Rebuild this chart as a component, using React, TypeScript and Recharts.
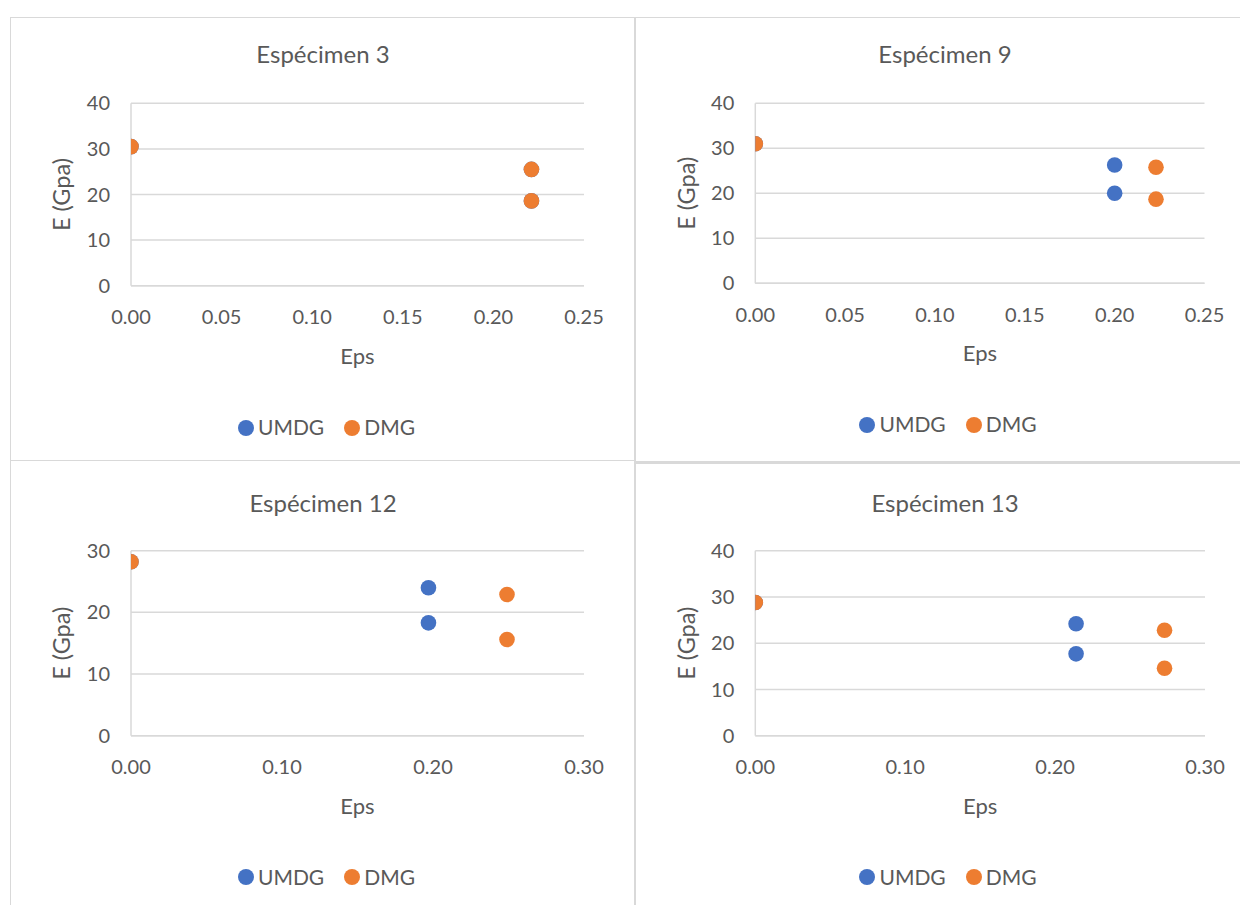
import React from 'react';
import { ScatterChart, Scatter, XAxis, YAxis, CartesianGrid, Legend } from 'recharts';

// ---- data ----
const titles = ['Espécimen 3', 'Espécimen 9', 'Espécimen 12', 'Espécimen 13'];
const seriesNames = ['UMDG', 'DMG'];
const xAxisTitle = 'Eps';
const yAxisTitle = 'E (Gpa)';

const umdg3 = [{ x: 0, y: 30.5 }, { x: 0.221, y: 25.5 }, { x: 0.221, y: 18.6 }];
const dmg3 = [{ x: 0, y: 30.5 }, { x: 0.221, y: 25.5 }, { x: 0.221, y: 18.6 }];
const umdg9 = [{ x: 0, y: 31.0 }, { x: 0.2, y: 26.3 }, { x: 0.2, y: 20.0 }];
const dmg9 = [{ x: 0, y: 31.0 }, { x: 0.223, y: 25.8 }, { x: 0.223, y: 18.7 }];
const umdg12 = [{ x: 0, y: 28.2 }, { x: 0.197, y: 24.0 }, { x: 0.197, y: 18.3 }];
const dmg12 = [{ x: 0, y: 28.2 }, { x: 0.249, y: 22.9 }, { x: 0.249, y: 15.6 }];
const umdg13 = [{ x: 0, y: 28.8 }, { x: 0.214, y: 24.2 }, { x: 0.214, y: 17.7 }];
const dmg13 = [{ x: 0, y: 28.8 }, { x: 0.273, y: 22.8 }, { x: 0.273, y: 14.6 }];

const xTicks025 = [0, 0.05, 0.1, 0.15, 0.2, 0.25];
const xTicks030 = [0, 0.1, 0.2, 0.3];
const yTicks40 = [0, 10, 20, 30, 40];
const yTicks30 = [0, 10, 20, 30];

// ---- style ----
const BLUE = '#4472C4';
const ORANGE = '#ED7D31';
const GRID = '#d9d9d9';
const TEXT = '#595959';
const FONT = 'Lato, "Open Sans", sans-serif';
const MARKER_R = 7.8;

type PanelLayout = {
  left: number; top: number; w: number; h: number;
  plotLeft: number; plotRight: number; plotTop: number; plotBottom: number;
  titleCx: number; titleCy: number; legendCx: number; legendCy: number;
};

const layouts: PanelLayout[] = [
  { left: 10, top: 17, w: 624, h: 443, plotLeft: 131, plotRight: 584, plotTop: 103.3, plotBottom: 285.7, titleCx: 323, titleCy: 55, legendCx: 326.5, legendCy: 427 },
  { left: 635, top: 17, w: 620, h: 445, plotLeft: 755.3, plotRight: 1204.5, plotTop: 103.3, plotBottom: 283.3, titleCx: 945, titleCy: 55, legendCx: 948, legendCy: 424 },
  { left: 10, top: 460, w: 624, h: 445, plotLeft: 131, plotRight: 584, plotTop: 550.7, plotBottom: 735.7, titleCx: 323, titleCy: 503.3, legendCx: 326.5, legendCy: 876.7 },
  { left: 635, top: 463, w: 620, h: 442, plotLeft: 755.3, plotRight: 1205, plotTop: 550.7, plotBottom: 735.7, titleCx: 945, titleCy: 503.3, legendCx: 948, legendCy: 876.7 },
];

const panels = [
  { title: titles[0], umdg: umdg3, dmg: dmg3, xTicks: xTicks025, yTicks: yTicks40 },
  { title: titles[1], umdg: umdg9, dmg: dmg9, xTicks: xTicks025, yTicks: yTicks40 },
  { title: titles[2], umdg: umdg12, dmg: dmg12, xTicks: xTicks030, yTicks: yTicks30 },
  { title: titles[3], umdg: umdg13, dmg: dmg13, xTicks: xTicks030, yTicks: yTicks40 },
];

const Y_AXIS_W = 81;
const X_AXIS_H = 140;
const LEGEND_BOX_W = 300;
const LEGEND_FONT = 21;

const dot = (color: string) => (props: any) =>
  props.cx == null || props.cy == null ? <g /> : <circle cx={props.cx} cy={props.cy} r={MARKER_R} fill={color} />;

function Panel({ p, l }: { p: typeof panels[0]; l: PanelLayout }) {
  const margin = {
    top: l.plotTop - l.top,
    left: l.plotLeft - l.left - Y_AXIS_W,
    right: l.w - (l.plotRight - l.left),
    bottom: l.h - (l.plotBottom - l.top) - X_AXIS_H,
  };
  const legendLeft = l.legendCx - l.left + 5 - LEGEND_BOX_W / 2;
  const legendTop = l.legendCy - l.top - 15.1;
  const xMax = p.xTicks[p.xTicks.length - 1];
  const yMax = p.yTicks[p.yTicks.length - 1];
  return (
    <div style={{ position: 'absolute', left: l.left, top: l.top, width: l.w, height: l.h }}>
      <div
        style={{
          position: 'absolute', left: l.titleCx - l.left - 150, width: 300, top: l.titleCy - l.top - 15.65,
          height: 30, lineHeight: '30px', textAlign: 'center', fontFamily: FONT, fontSize: 24, color: TEXT, whiteSpace: 'nowrap',
        }}
      >
        {p.title}
      </div>
      <ScatterChart width={l.w} height={l.h} margin={margin} style={{ position: 'absolute', left: 0, top: 0 }}>
        <CartesianGrid vertical={false} stroke={GRID} strokeWidth={1.5} />
        <XAxis
          type="number"
          dataKey="x"
          domain={[0, xMax]}
          ticks={p.xTicks}
          interval={0}
          allowDataOverflow
          tickFormatter={(v: number) => v.toFixed(2)}
          tickLine={false}
          tickSize={6}
          tickMargin={18}
          axisLine={{ stroke: GRID, strokeWidth: 1.5 }}
          height={X_AXIS_H}
          tick={{ fill: TEXT, fontSize: 20, fontFamily: FONT }}
          label={{ value: xAxisTitle, position: 'center', fill: TEXT, fontSize: 22, fontFamily: FONT }}
        />
        <YAxis
          type="number"
          dataKey="y"
          domain={[0, yMax]}
          ticks={p.yTicks}
          interval={0}
          tickLine={false}
          tickSize={6}
          tickMargin={15}
          width={Y_AXIS_W}
          axisLine={{ stroke: GRID, strokeWidth: 1.5 }}
          tick={{ fill: TEXT, fontSize: 20, fontFamily: FONT }}
          label={{
            value: yAxisTitle, angle: -90, position: 'insideLeft', offset: 12,
            fill: TEXT, fontSize: 23.5, fontFamily: FONT, style: { textAnchor: 'middle' },
          }}
        />
        <Legend
          layout="horizontal"
          verticalAlign="middle"
          align="center"
          iconType="circle"
          iconSize={16}
          itemSorter={(item: any) => seriesNames.indexOf(item.value)}
          wrapperStyle={{ left: legendLeft, top: legendTop, width: LEGEND_BOX_W, fontFamily: FONT, fontSize: LEGEND_FONT }}
          formatter={(value: string) => (
            <span style={{ color: TEXT, position: 'relative', top: 2, marginRight: value === seriesNames[0] ? 10 : 0 }}>{value}</span>
          )}
        />
        <Scatter name={seriesNames[0]} data={p.umdg} fill={BLUE} shape={dot(BLUE)} isAnimationActive={false} legendType="circle" />
        <Scatter name={seriesNames[1]} data={p.dmg} fill={ORANGE} shape={dot(ORANGE)} isAnimationActive={false} legendType="circle" />
      </ScatterChart>
    </div>
  );
}

export default function App() {
  const line = (s: React.CSSProperties) => <div style={{ position: 'absolute', background: GRID, ...s }} />;
  return (
    <div style={{ position: 'absolute', left: 0, top: 0, width: 1240, height: 905, overflow: 'hidden', background: '#fff' }}>
      {panels.map((p, i) => (
        <Panel key={i} p={p} l={layouts[i]} />
      ))}
      {line({ left: 10, top: 16.5, width: 1230, height: 1.5 })}
      {line({ left: 9.5, top: 17, width: 1.5, height: 888 })}
      {line({ left: 634, top: 17, width: 2, height: 888 })}
      {line({ left: 10, top: 459.5, width: 624, height: 1.5 })}
      {line({ left: 636, top: 461, width: 604, height: 2.5 })}
    </div>
  );
}
